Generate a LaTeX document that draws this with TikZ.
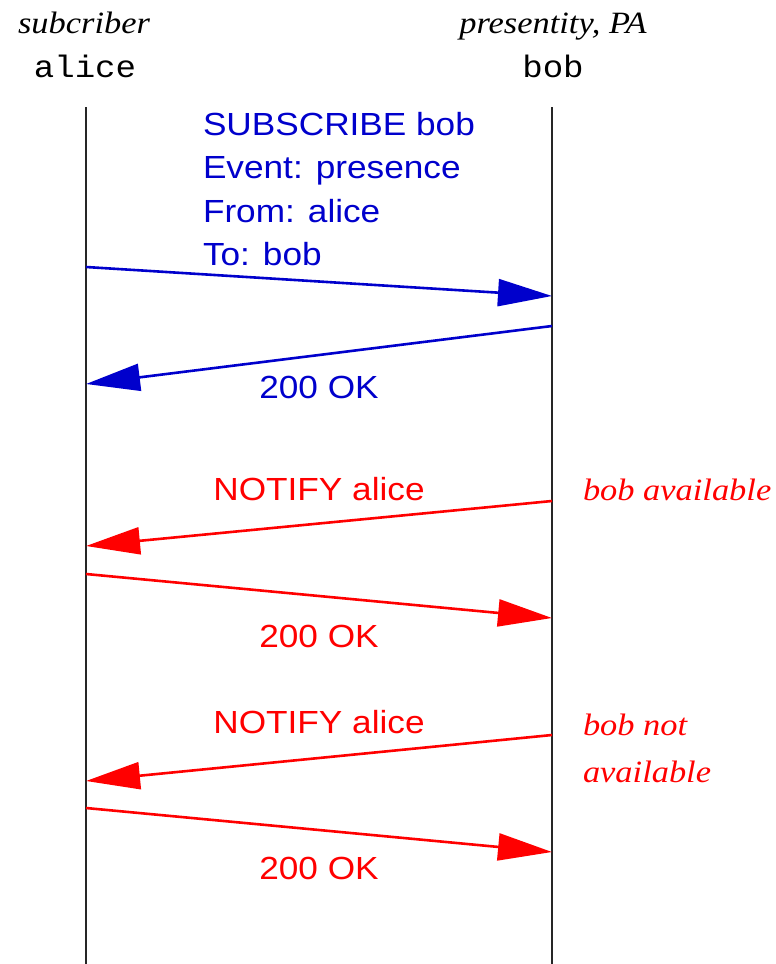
\documentclass[tikz,border=0pt]{standalone}
\usepackage{fontspec}
\usetikzlibrary{arrows.meta}
\newfontfamily\sansfam{Liberation Sans}
\newfontfamily\serfam{Liberation Serif}
\newfontfamily\monofam{Liberation Mono}
\definecolor{msgblue}{RGB}{0,0,204}
\definecolor{msgred}{RGB}{255,0,0}
\newcommand{\sanstxt}[1]{{\sansfam\fontsize{32}{40}\selectfont\scalebox{1.1}[1]{#1}}}
\newcommand{\sertxt}[1]{{\serfam\itshape\fontsize{31}{40}\selectfont\scalebox{1.11}[1]{#1}}}
\newcommand{\monotxt}[1]{{\monofam\fontsize{31}{40}\selectfont\scalebox{1.1}[1]{#1}}}
\begin{document}
\begin{tikzpicture}[x=1pt,y=-1pt,
  lifeline/.style={line width=1.3pt,draw=black!85},
  msg/.style={line width=2.6pt,-{Triangle[length=54pt,width=27pt]}},
  lbl/.style={inner sep=0pt,outer sep=0pt}]
\useasboundingbox[fill=white] (0,0) rectangle (776,964);
% headers
\node[lbl,anchor=base] (hsub) at (84,33) {\sertxt{subcriber}};
\node[lbl,anchor=base] (hpa) at (553,33) {\sertxt{presentity, PA}};
\node[lbl,anchor=base] (halice) at (85,77) {\monotxt{alice}};
\node[lbl,anchor=base] (hbob) at (553,77) {\monotxt{bob}};
% lifelines
\coordinate (at) at (86,107); \coordinate (ab) at (86,964);
\coordinate (bt) at (552,107); \coordinate (bb) at (552,964);
\draw[lifeline] (at) -- (ab);
\draw[lifeline] (bt) -- (bb);
% message end points
\coordinate (m1s) at (86,267);  \coordinate (m1e) at (552,296);
\coordinate (m2s) at (552,326); \coordinate (m2e) at (86,384);
\coordinate (m3s) at (552,501); \coordinate (m3e) at (86,546);
\coordinate (m4s) at (86,574);  \coordinate (m4e) at (552,618);
\coordinate (m5s) at (552,735); \coordinate (m5e) at (86,781);
\coordinate (m6s) at (86,808);  \coordinate (m6e) at (552,852);
\draw[msg,msgblue] (m1s) -- (m1e);
\draw[msg,msgblue] (m2s) -- (m2e);
\draw[msg,msgred] (m3s) -- (m3e);
\draw[msg,msgred] (m4s) -- (m4e);
\draw[msg,msgred] (m5s) -- (m5e);
\draw[msg,msgred] (m6s) -- (m6e);
% labels
\node[lbl,anchor=base west,text=msgblue] (s1) at (203,135) {\sanstxt{SUBSCRIBE bob}};
\node[lbl,anchor=base west,text=msgblue] (s2) at (203,178) {\sanstxt{Event: presence}};
\node[lbl,anchor=base west,text=msgblue] (s3) at (203,222) {\sanstxt{From: alice}};
\node[lbl,anchor=base west,text=msgblue] (s4) at (203,265) {\sanstxt{To: bob}};
\node[lbl,anchor=base,text=msgblue] (ok1) at (319,398) {\sanstxt{200 OK}};
\node[lbl,anchor=base,text=msgred] (n1) at (319,500) {\sanstxt{NOTIFY alice}};
\node[lbl,anchor=base west,text=msgred] (av1) at (583,500) {\sertxt{bob available}};
\node[lbl,anchor=base,text=msgred] (ok2) at (319,647) {\sanstxt{200 OK}};
\node[lbl,anchor=base,text=msgred] (n2) at (319,733) {\sanstxt{NOTIFY alice}};
\node[lbl,anchor=base west,text=msgred] (av2a) at (583,735) {\sertxt{bob not}};
\node[lbl,anchor=base west,text=msgred] (av2b) at (583,782) {\sertxt{available}};
\node[lbl,anchor=base,text=msgred] (ok3) at (319,879) {\sanstxt{200 OK}};
\end{tikzpicture}
\end{document}
